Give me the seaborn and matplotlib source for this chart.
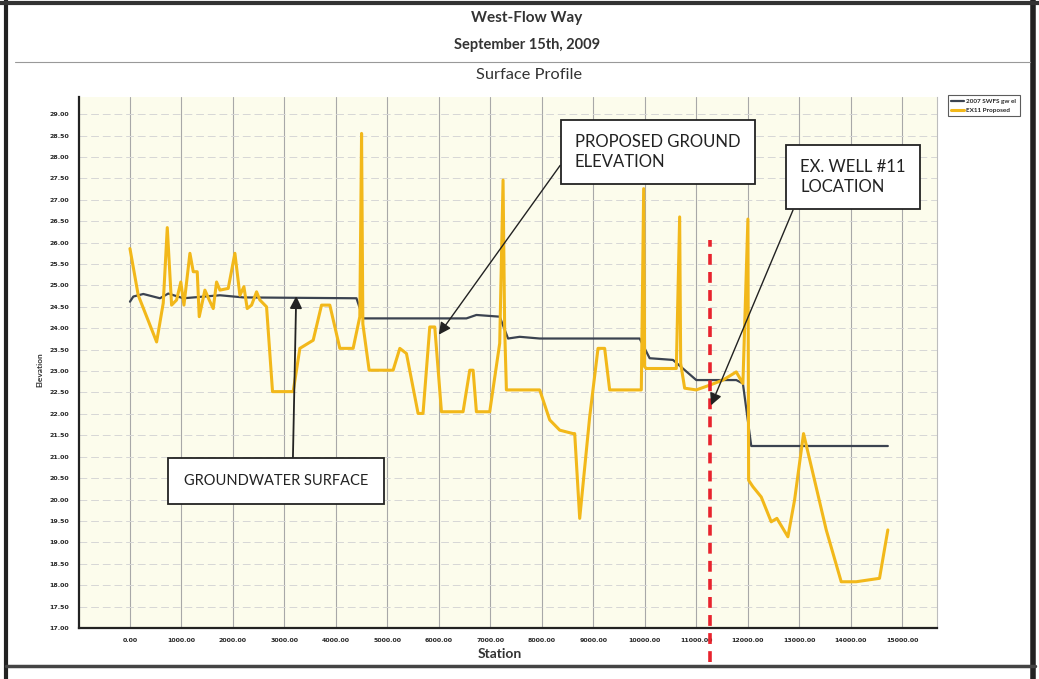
import matplotlib
matplotlib.use("Agg")
import matplotlib.pyplot as plt
from matplotlib.lines import Line2D
from matplotlib.ticker import MultipleLocator, FormatStrFormatter
import seaborn as sns
import pandas as pd
import numpy as np

# Groundwater surface (dark line)
gw_station = [0, 65, 259, 583, 744, 1036, 1748, 2201, 4401, 4531, 5372, 6537, 6731,
              7184, 7346, 7573, 7961, 9903, 10097, 10550, 11003, 11780, 11909, 12071, 14725]
gw_elev = [24.62, 24.74, 24.80, 24.70, 24.81, 24.70, 24.77, 24.72, 24.70, 24.23, 24.23, 24.23, 24.31,
           24.27, 23.76, 23.80, 23.76, 23.76, 23.30, 23.26, 22.79, 22.79, 22.71, 21.25, 21.25]

# Proposed ground (yellow line)
pr_station = [0, 161, 518, 647, 725, 809, 906, 988, 1049, 1165, 1230, 1307, 1346, 1456, 1540,
              1618, 1683, 1748, 1909, 2039, 2136, 2214, 2278, 2363, 2460, 2524, 2654, 2770, 3171,
              3301, 3560, 3722, 3883, 4078, 4336, 4466, 4500, 4525, 4647, 5113, 5243, 5372, 5598,
              5694, 5825, 5922, 6052, 6472, 6602, 6667, 6731, 6990, 7184, 7249, 7280, 7314, 7961,
              8155, 8350, 8608, 8641, 8738, 8932, 9094, 9223, 9320, 9935, 9981, 10000, 10032, 10615,
              10680, 10700, 10777, 11003, 11262, 11521, 11780, 11909, 12006, 12020, 12103, 12265,
              12459, 12569, 12783, 12913, 13087, 13301, 13528, 13819, 14110, 14563, 14725]
pr_elev = [25.86, 24.77, 23.68, 24.59, 26.35, 24.54, 24.66, 25.08, 24.54, 25.75, 25.32, 25.32, 24.27,
           24.89, 24.66, 24.46, 25.08, 24.89, 24.93, 25.75, 24.77, 24.97, 24.46, 24.54, 24.85,
           24.66, 24.50, 22.52, 22.52, 23.53, 23.72, 24.54, 24.54, 23.53, 23.53, 24.27, 28.55,
           24.10, 23.02, 23.02, 23.53, 23.41, 22.01, 22.01, 24.03, 24.03, 22.05, 22.05, 23.02,
           23.02, 22.05, 22.05, 23.65, 27.46, 24.00, 22.56, 22.56, 21.86, 21.62, 21.54, 21.54,
           19.56, 21.93, 23.53, 23.53, 22.56, 22.56, 27.26, 23.10, 23.06, 23.06, 26.60, 23.18,
           22.60, 22.56, 22.67, 22.79, 22.98, 22.71, 26.55, 20.45, 20.30, 20.06, 19.48, 19.56,
           19.13, 19.99, 21.54, 20.45, 19.29, 18.08, 18.08, 18.16, 19.29]

well_station = 11262
series_names = ["2007 SWFS gw el", "EX11 Proposed"]

gw = pd.DataFrame({"Station": gw_station, "Elevation": gw_elev})
pr = pd.DataFrame({"Station": pr_station, "Elevation": pr_elev})

sns.set_theme(style="white")
plt.rcParams["font.family"] = ["Lato", "DejaVu Sans"]

fig = plt.figure(figsize=(10.39, 6.79), dpi=100)
ax = fig.add_axes([79 / 1039, 1 - 628 / 679, 858 / 1039, 531 / 679])
ax.set_facecolor("#fcfcec")

sns.lineplot(data=gw, x="Station", y="Elevation", ax=ax, color="#3b4350", lw=1.6,
             sort=False, estimator=None, label=series_names[0], zorder=3)
sns.lineplot(data=pr, x="Station", y="Elevation", ax=ax, color="#f2b81a", lw=2.2,
             sort=False, estimator=None, label=series_names[1], zorder=4)

ax.set_xlim(-990, 15680)
ax.set_ylim(17.0, 29.4)
ax.xaxis.set_minor_locator(MultipleLocator(250))
ax.yaxis.set_minor_locator(MultipleLocator(0.25))
ax.xaxis.set_major_formatter(FormatStrFormatter("%.2f"))
ax.yaxis.set_major_formatter(FormatStrFormatter("%.2f"))
ax.set_xticks(np.arange(0, 15001, 1000))
ax.set_yticks(np.arange(17.0, 29.01, 0.5))
ax.tick_params(axis="both", which="major", labelsize=4.5, length=4, width=1, color="#222",
               direction="out", pad=3)
ax.tick_params(axis="both", which="minor", length=2.5, width=0.8, color="#222", direction="out")
for lab in ax.get_xticklabels() + ax.get_yticklabels():
    lab.set_fontweight("bold")
    lab.set_family(["DejaVu Sans"])

ax.grid(axis="x", which="major", color="#a8a8a8", lw=0.8)
ax.grid(axis="y", which="major", color="#d6d6d6", lw=0.7, ls=(0, (8, 4)))

for side in ["left", "bottom"]:
    ax.spines[side].set_color("#222")
    ax.spines[side].set_linewidth(1.6)
ax.spines["top"].set_visible(False)
ax.spines["right"].set_color("#bdbdbd")
ax.spines["right"].set_linewidth(0.8)

ax.set_xlabel("Station", fontsize=10, fontweight="bold", color="#333")
ax.xaxis.set_label_coords(0.49, -0.038)
ax.set_ylabel("Elevation", fontsize=6, fontweight="bold", color="#333")
ax.yaxis.set_label_coords(-0.042, 0.486)

leg = ax.legend(loc="upper left", bbox_to_anchor=(1.009, 1.009), fontsize=4.6, frameon=True,
                fancybox=False, edgecolor="#333", handlelength=2.0, borderpad=0.5,
                labelspacing=0.5, handletextpad=0.4)
leg.get_frame().set_linewidth(0.8)
for t in leg.get_texts():
    t.set_fontweight("bold")

# well location
ax.plot([well_station, well_station], [16.2, 26.05], color="#e8232d", lw=2.6,
        ls=(0, (3, 2)), clip_on=False, zorder=5)

box = dict(boxstyle="square,pad=0.85", fc="white", ec="#222", lw=1.3)
ax.annotate("PROPOSED GROUND\nELEVATION", xy=(6000, 23.85), xycoords="data",
            xytext=(575 / 1039, 1 - 152 / 679), textcoords="figure fraction",
            ha="left", va="center", fontsize=12, color="#222", bbox=box, linespacing=1.35,
            arrowprops=dict(arrowstyle="-|>", color="#222", lw=1.0, mutation_scale=18,
                            shrinkA=0, shrinkB=0, relpos=(0.0, 0.7)), zorder=6)
ax.annotate("EX. WELL #11\nLOCATION", xy=(11290, 22.2), xycoords="data",
            xytext=(800 / 1039, 1 - 177 / 679), textcoords="figure fraction",
            ha="left", va="center", fontsize=12, color="#222", bbox=box, linespacing=1.35,
            arrowprops=dict(arrowstyle="-|>", color="#222", lw=1.0, mutation_scale=18,
                            shrinkA=0, shrinkB=0, relpos=(0.0, 0.05)), zorder=6)
ax.annotate("GROUNDWATER SURFACE", xy=(3230, 24.75), xycoords="data",
            xytext=(276 / 1039, 1 - 481 / 679), textcoords="figure fraction",
            ha="center", va="center", fontsize=10.5, color="#222",
            bbox=dict(boxstyle="square,pad=1.1", fc="white", ec="#222", lw=1.3),
            arrowprops=dict(arrowstyle="-|>", color="#222", lw=1.3, mutation_scale=18,
                            shrinkA=0, shrinkB=0, relpos=(0.59, 1.0)), zorder=6)

# titles
fig.text(527 / 1039, 1 - 18 / 679, "West-Flow Way", ha="center", va="center",
         fontsize=11, fontweight="bold", color="#333")
fig.text(527 / 1039, 1 - 45 / 679, "September 15th, 2009", ha="center", va="center",
         fontsize=10.5, fontweight="bold", color="#333")
fig.text(529 / 1039, 1 - 75 / 679, "Surface Profile", ha="center", va="center",
         fontsize=11.8, color="#333")

# page frame
W, H = 1039, 679
frame = [((6, 6), (0, H), 3.0, "#222"),
         ((1033, 1033), (0, H), 4.0, "#222"),
         ((0, W), (3, 3), 3.0, "#333"),
         ((6, 1035), (666, 666), 2.5, "#444"),
         ((15, 1030), (62, 62), 0.8, "#999")]
for xs, ys, lw, c in frame:
    fig.add_artist(Line2D([x / W for x in xs], [1 - y / H for y in ys], lw=lw, color=c))

fig.savefig("out.png", dpi=100)
